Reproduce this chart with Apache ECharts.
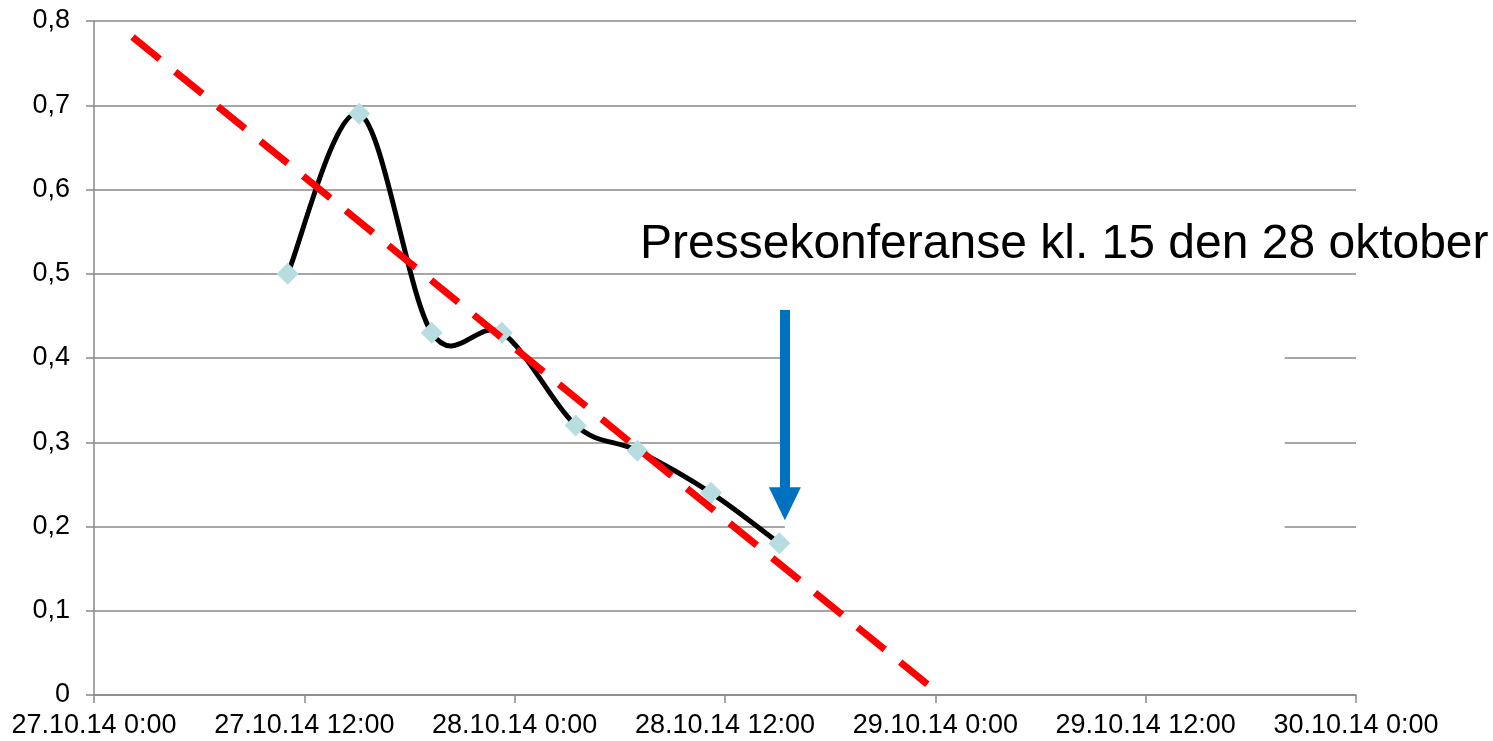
<!DOCTYPE html>
<html>
<head>
<meta charset="utf-8">
<script src="https://cdn.jsdelivr.net/npm/echarts@6/dist/echarts.min.js"></script>
<style>
html,body{margin:0;padding:0;background:#fff;}
#chart{width:1493px;height:741px;}
</style>
</head>
<body>
<div id="chart"></div>
<script>
// ---- data ----
const pointTimes = ['2014-10-27 11:03','2014-10-27 15:08','2014-10-27 19:16','2014-10-27 23:16','2014-10-28 03:29','2014-10-28 07:00','2014-10-28 11:12','2014-10-28 15:06'];
const pointValues = [0.50, 0.69, 0.43, 0.43, 0.32, 0.29, 0.24, 0.18];
const trendTimes = ['2014-10-27 02:12','2014-10-29 00:18'];
const trendValues = [0.781, 0];
const axisStart = '2014-10-27 00:00';
const axisEnd = '2014-10-30 00:00';
const annotationText = 'Pressekonferanse kl. 15 den 28 oktober';
const arrowTime = '2014-10-28 15:25';
const arrowValues = [0.457, 0.227];
const boxTimes = ['2014-10-28 15:25','2014-10-29 19:56'];
const boxValues = [0.17, 0.47];

function toMs(s){
  const [d,t] = s.split(' ');
  const [Y,M,D] = d.split('-').map(Number);
  const [h,m] = t.split(':').map(Number);
  return Date.UTC(Y,M-1,D,h,m);
}
const HOUR = 3600*1000;
const pad = n => (n<10?'0':'')+n;
function fmtX(v){
  const d = new Date(v);
  return pad(d.getUTCDate())+'.'+pad(d.getUTCMonth()+1)+'.'+String(d.getUTCFullYear()).slice(2)+' '+d.getUTCHours()+':'+pad(d.getUTCMinutes());
}
const pointData = pointTimes.map((t,i)=>[toMs(t),pointValues[i]]);
const N = pointData.length;

// Excel-like smoothed segment (Catmull-Rom as cubic Bezier)
function renderSmooth(params, api){
  const i = params.dataIndex;
  if (i >= N-1) return null;
  const P = k => api.coord(pointData[Math.max(0,Math.min(N-1,k))]);
  const p0 = P(i-1), p1 = P(i), p2 = P(i+1), p3 = P(i+2);
  const t = 1/6;
  return {
    type:'bezierCurve',
    shape:{
      x1:p1[0], y1:p1[1], x2:p2[0], y2:p2[1],
      cpx1:p1[0]+(p2[0]-p0[0])*t, cpy1:p1[1]+(p2[1]-p0[1])*t,
      cpx2:p2[0]-(p3[0]-p1[0])*t, cpy2:p2[1]-(p3[1]-p1[1])*t
    },
    style:{stroke:'#000', lineWidth:5, fill:'none', lineCap:'round'}
  };
}

const font = 'Liberation Sans, Arial, sans-serif';
const chart = echarts.init(document.getElementById('chart'));
chart.setOption({
  animation:false,
  backgroundColor:'#fff',
  grid:{left:94,right:137,top:21,bottom:46,containLabel:false},
  xAxis:{
    type:'value',
    min:toMs(axisStart), max:toMs(axisEnd), interval:12*HOUR,
    axisLine:{show:true,lineStyle:{color:'#888',width:1.5}},
    axisTick:{show:true,length:8,lineStyle:{color:'#888',width:1.5}},
    splitLine:{show:false},
    axisLabel:{formatter:fmtX,color:'#000',fontSize:27,fontFamily:font,margin:17,showMinLabel:true,showMaxLabel:true}
  },
  yAxis:{
    type:'value',min:0,max:0.8,interval:0.1,
    axisLine:{show:true,lineStyle:{color:'#888',width:1.5}},
    axisTick:{show:true,length:8,lineStyle:{color:'#888',width:1.5}},
    splitLine:{show:true,lineStyle:{color:'#888',width:1.5}},
    axisLabel:{formatter:v=> (Math.round(v*10)/10).toString().replace('.',','),color:'#000',fontSize:27,fontFamily:font,margin:24}
  },
  series:[
    {
      type:'custom',z:2,
      data:pointData,
      renderItem:renderSmooth,
      silent:true
    },
    {
      type:'scatter',z:3,
      data:pointData,
      symbol:'diamond',symbolSize:22,
      itemStyle:{color:'#B7DDE1',borderWidth:0,opacity:1}
    },
    {
      type:'line',z:4,
      data:trendTimes.map((t,i)=>[toMs(t),trendValues[i]]),
      symbol:'none',
      lineStyle:{color:'#FF0000',width:7,type:[35,20],cap:'butt'}
    },
    {
      type:'line',z:5,data:[],symbol:'none',
      markArea:{silent:true,itemStyle:{color:'#fff',opacity:1,borderWidth:0},
        data:[[{coord:[toMs(boxTimes[0]),boxValues[0]]},{coord:[toMs(boxTimes[1]),boxValues[1]]}]]}
    },
    {
      type:'line',z:6,data:[],symbol:'none',
      markLine:{silent:true,symbol:['none','triangle'],symbolSize:[32,33],
        label:{show:false},
        lineStyle:{color:'#0070C0',width:10,type:'solid'},
        data:[[{coord:[toMs(arrowTime),arrowValues[0]]},{coord:[toMs(arrowTime),arrowValues[1]]}]]}
    }
  ],
  graphic:[{
    type:'text',left:640,top:221,z:10,
    style:{text:annotationText,fill:'#000',font:'48px '+font}
  }]
});
</script>
</body>
</html>
